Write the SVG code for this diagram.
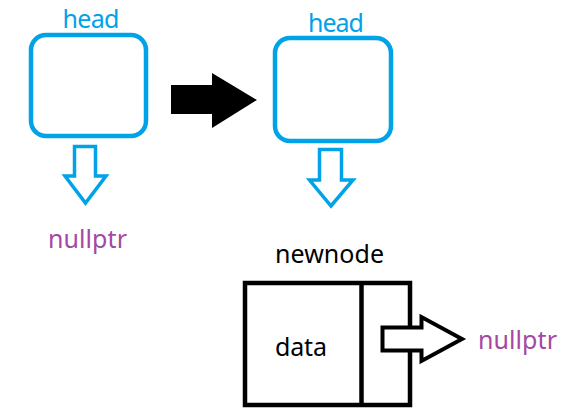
<svg xmlns="http://www.w3.org/2000/svg" width="570" height="419" viewBox="0 0 570 419">
<style>
.blue{fill:none;stroke:#00a2e8;stroke-width:4.5}
.barrow{fill:#fff;stroke:#00a2e8;stroke-width:3.5;stroke-linejoin:miter}
.lbl{font-family:"Noto Sans","Open Sans",sans-serif}
.head{fill:#00a2e8;font-size:25px}
.null{fill:#a349a4;font-size:25px}
.blk{fill:#000;font-size:25px}
.box{fill:none;stroke:#000;stroke-width:4.5}
</style>
<rect width="570" height="419" fill="#fff"/>
<g id="head1">
<rect class="blue" x="31" y="35" width="115" height="101" rx="15"/>
<text class="lbl head" x="91" y="28" text-anchor="middle" textLength="57">head</text>
</g>
<g id="null1">
<text class="lbl null" x="48" y="248" textLength="79">nullptr</text>
</g>
<g id="head2">
<rect class="blue" x="275" y="38" width="116" height="103" rx="15"/>
<text class="lbl head" x="336" y="32" text-anchor="middle" textLength="56">head</text>
</g>
<g id="newnode">
<text class="lbl blk" x="275" y="263" textLength="109">newnode</text>
<rect class="box" x="245" y="283" width="165" height="122"/>
<line class="box" x1="361.5" y1="283" x2="361.5" y2="405"/>
<text class="lbl blk" x="275" y="356" textLength="52">data</text>
</g>
<g id="null2">
<text class="lbl null" x="478" y="349" textLength="79">nullptr</text>
</g>
<g id="connectors">
<polygon class="barrow" points="74.5,146.5 95.5,146.5 95.5,176 106,176 85.5,203 65,176 74.5,176"/>
<polygon class="barrow" points="319.5,149.5 341.5,149.5 341.5,180 353,180 331,206 309.5,180 319.5,180"/>
<polygon fill="#000" points="171,85 212,85 212,73 257,100 212,128 212,114 171,114"/>
<polygon fill="#fff" stroke="#000" stroke-width="4" stroke-linejoin="miter" points="382.5,327.5 421.5,327.5 421.5,317 462,339 421.5,361 421.5,350.5 382.5,350.5"/>
</g>
</svg>
